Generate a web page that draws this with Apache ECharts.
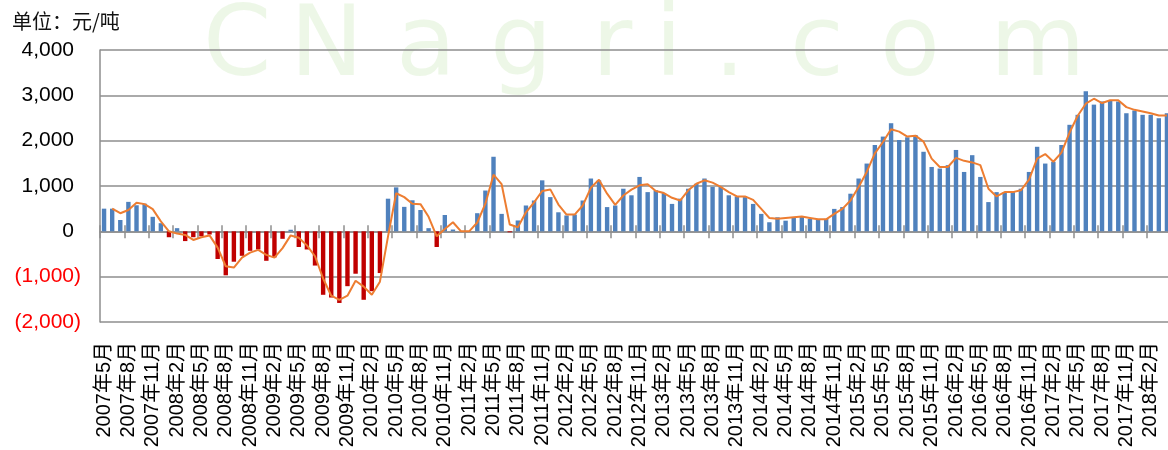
<!DOCTYPE html>
<html><head><meta charset="utf-8">
<script src="https://cdn.jsdelivr.net/npm/echarts@6/dist/echarts.min.js"></script>
<style>html,body{margin:0;padding:0;background:#fff}#c{width:1168px;height:450px}</style>
</head><body><div id="c"></div>
<script>
// ---- data ----
const startYear = 2007, startMonth = 5, monthCount = 132;
const months = [];
for (let i = 0; i < monthCount; i++) {
  const m = startMonth - 1 + i;
  months.push((startYear + Math.floor(m / 12)) + '年' + (m % 12 + 1) + '月');
}
// monthly value (bars)
const spread = [
  500, 500, 250, 650, 575, 610, 320, 180, -130, 70,
  -215, -130, -110, -70, -610, -970, -670, -540, -430, -400,
  -650, -575, -165, 35, -345, -400, -755, -1400, -1460, -1580,
  -1210, -935, -1510, -1320, -920, 720, 970, 540, 685, 470,
  70, -345, 360, 40, 0, 0, 400, 900, 1645, 385,
  -20, 240, 570, 680, 1125, 755, 420, 350, 370, 680,
  1165, 1125, 535, 570, 940, 795, 1200, 865, 905, 845,
  605, 720, 940, 1050, 1165, 980, 980, 795, 770, 755,
  605, 385, 200, 310, 235, 295, 325, 275, 250, 275,
  495, 535, 830, 1165, 1495, 1905, 2090, 2385, 2015, 2075,
  2125, 1755, 1420, 1385, 1460, 1795, 1310, 1680, 1200, 645,
  865, 865, 865, 940, 1310, 1865, 1495, 1535, 1905, 2350,
  2570, 3090, 2795, 2865, 2890, 2865, 2605, 2665, 2570, 2570, 2495, 2605
];
// trend line
const trend = [
  null, 500, 400, 470, 630, 600, 490, 220, 0, -50,
  -80, -190, -130, -90, -360, -770, -800, -580, -470, -410,
  -520, -580, -370, -90, -140, -310, -550, -1040, -1420, -1510,
  -1420, -1090, -1220, -1400, -1110, -110, 840, 755, 610, 600,
  320, -110, 50, 200, 0, 0, 195, 610, 1250, 1040,
  150, 90, 420, 640, 890, 925, 590, 370, 370, 570,
  960, 1140, 830, 585, 790, 920, 1015, 1040, 890, 845,
  740, 680, 905, 1050, 1125, 1075, 980, 865, 770, 770,
  695, 495, 295, 275, 295, 310, 325, 295, 265, 265,
  385, 495, 680, 980, 1310, 1720, 1970, 2250, 2200, 2090,
  2110, 1980, 1605, 1420, 1420, 1620, 1555, 1520, 1460, 940,
  770, 865, 865, 905, 1140, 1605, 1705, 1535, 1735, 2180,
  2550, 2815, 2925, 2830, 2890, 2890, 2740, 2680, 2645, 2605, 2555, 2555
];
const yMin = -2000, yMax = 4000, yStep = 1000;
const unitLabel = '单位：元/吨';
const watermark = ['C', 'N', 'a', 'g', 'r', 'i', '.', 'c', 'o', 'm'];

// ---- layout ----
const FONT = "'Liberation Sans', 'Noto Sans CJK SC', sans-serif";
const GRID = '#8e8e8e';
const G = { left: 100, top: 50, width: 1071, height: 272 };
const zeroY = G.top + G.height * yMax / (yMax - yMin);
function fmt(v) { return Math.abs(v).toLocaleString('en-US'); }

const wmX = [203, 290, 396, 490, 592, 655, 714, 790, 880, 990];
const hiddenY = (gi) => ({ type: 'value', gridIndex: gi, min: 0, max: 1, show: false,
  axisLine: { show: false }, axisTick: { show: false }, axisLabel: { show: false }, splitLine: { show: false } });
const tickAxis = (gi, pos, len) => ({
  type: 'category', gridIndex: gi, position: pos, data: months, boundaryGap: true,
  axisLine: { onZero: false, show: pos === 'bottom', lineStyle: { color: GRID, width: 1.5 } },
  axisTick: { show: true, interval: 2, length: len, lineStyle: { color: GRID, width: 1.5 } },
  axisLabel: { show: false }, splitLine: { show: false }
});

const chart = echarts.init(document.getElementById('c'), null, { renderer: 'canvas' });
chart.setOption({
  animation: false,
  backgroundColor: '#fff',
  title: {
    text: unitLabel, left: 7, top: 6,
    textStyle: { fontSize: 20, fontWeight: 'normal', color: '#111', fontFamily: "'Noto Sans CJK SC', sans-serif" }
  },
  graphic: watermark.map((ch, i) => ({
    type: 'text', z: -10, silent: true,
    style: { text: ch, x: wmX[i], y: 50, textVerticalAlign: 'middle',
      font: "98px 'DejaVu Sans', sans-serif", fill: 'rgba(150,205,110,0.17)' }
  })),
  grid: [
    Object.assign({ containLabel: false, outerBoundsMode: 'none' }, G),
    { left: G.left, top: G.top, width: G.width, height: zeroY - G.top, containLabel: false, outerBoundsMode: 'none' },
    { left: G.left, top: zeroY, width: G.width, height: G.top + G.height - zeroY, containLabel: false, outerBoundsMode: 'none' }
  ],
  xAxis: [
    {
      type: 'category', gridIndex: 0, position: 'bottom', data: months, boundaryGap: true,
      axisLine: { onZero: false, show: false },
      axisTick: { show: false },
      axisLabel: { interval: 2, rotate: 90, margin: 20, fontSize: 20, color: '#000', fontFamily: FONT, hideOverlap: false },
      splitLine: { show: false }
    },
    tickAxis(1, 'bottom', 7),
    tickAxis(2, 'top', 6)
  ],
  yAxis: [
    {
      type: 'value', gridIndex: 0, min: yMin, max: yMax, interval: yStep,
      axisLine: { show: true, lineStyle: { color: GRID, width: 1.5 } },
      axisTick: { show: false },
      splitLine: { show: true, lineStyle: { color: GRID, width: 1.5 } },
      axisLabel: {
        margin: 19, fontSize: 21, fontFamily: FONT,
        formatter: v => v < 0 ? '{n|(' + fmt(v) + ')}' : '{p|' + fmt(v) + '}',
        rich: {
          p: { color: '#000', fontSize: 21, fontFamily: FONT, padding: [0, 7, 0, 0] },
          n: { color: '#ff0000', fontSize: 21, fontFamily: FONT }
        }
      }
    },
    hiddenY(1),
    hiddenY(2)
  ],
  series: [
    {
      type: 'bar', data: spread, barWidth: 4.4, xAxisIndex: 0, yAxisIndex: 0, z: 2,
      itemStyle: { color: p => p.value < 0 ? '#c00000' : '#4f81bd' }
    },
    {
      type: 'line', data: trend, xAxisIndex: 0, yAxisIndex: 0, z: 3, symbol: 'none', connectNulls: false,
      lineStyle: { color: '#ed7d31', width: 2 }
    }
  ]
});
</script>
</body></html>
